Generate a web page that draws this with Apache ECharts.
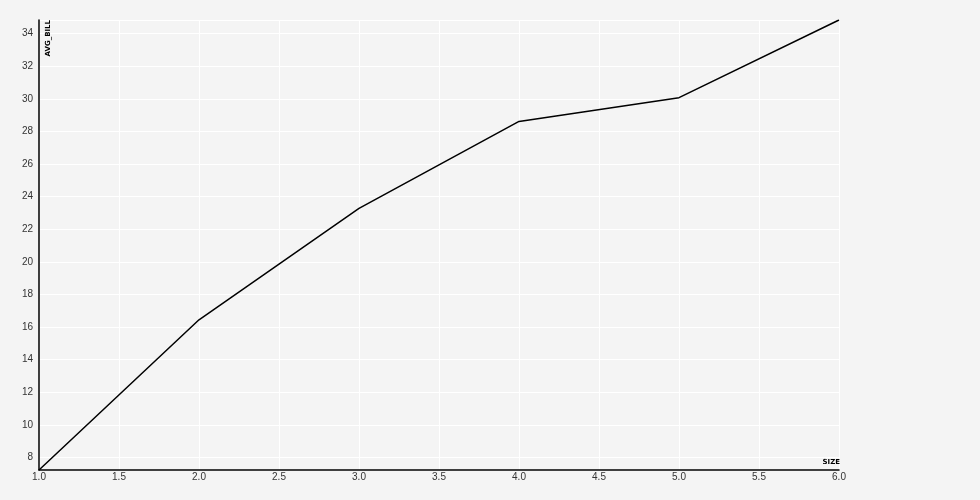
<!DOCTYPE html>
<html><head><meta charset="utf-8">
<script src="https://cdn.jsdelivr.net/npm/echarts@6/dist/echarts.min.js"></script>
<style>html,body{margin:0;padding:0;background:#f4f4f4}#c{width:980px;height:500px}</style>
</head><body><div id="c"></div>
<script>
const sizes = [1, 2, 3, 4, 5, 6];
const avgBill = [7.24, 16.45, 23.28, 28.61, 30.07, 34.83];
const xName = 'SIZE';
const yName = 'AVG_BILL';

const chart = echarts.init(document.getElementById('c'), null, {renderer: 'canvas'});
const yMin = Math.min(...avgBill), yMax = Math.max(...avgBill);
chart.setOption({
  backgroundColor: '#f4f4f4',
  animation: false,
  grid: {left: 39, right: 141, top: 20, bottom: 30},
  xAxis: {
    type: 'value', min: 1, max: 6, interval: 0.5,
    axisLine: {show: true, onZero: false, lineStyle: {color: '#000', width: 1.5}},
    axisTick: {show: false},
    splitLine: {show: true, lineStyle: {color: '#ffffff', width: 1}},
    axisLabel: {color: '#333', fontSize: 10, fontFamily: 'Liberation Sans, Arial', margin: 2,
      formatter: v => v.toFixed(1)}
  },
  yAxis: {
    type: 'value', min: yMin, max: yMax, splitNumber: 14, minInterval: 2, maxInterval: 2,
    axisLine: {show: true, onZero: false, lineStyle: {color: '#000', width: 1.5}},
    axisTick: {show: false},
    splitLine: {show: true, lineStyle: {color: '#ffffff', width: 1}},
    axisLabel: {color: '#333', fontSize: 10, fontFamily: 'Liberation Sans, Arial', margin: 6,
      showMinLabel: false, showMaxLabel: false,
      formatter: v => (Math.abs(v - Math.round(v)) < 1e-9 ? String(Math.round(v)) : '')}
  },
  series: [{
    type: 'line', data: sizes.map((s, i) => [s, avgBill[i]]),
    showSymbol: false, symbol: 'none',
    lineStyle: {color: '#000', width: 1.5}
  }],
  graphic: [
    {type: 'text', x: 840, y: 462, z: 100, style: {text: xName, fontSize: 7, fontWeight: 'bold', fontFamily: 'DejaVu Sans', fill: '#000', align: 'right', verticalAlign: 'middle'}},
    {type: 'text', x: 48, y: 20, z: 100, rotation: Math.PI / 2, style: {text: yName, fontSize: 7, fontWeight: 'bold', fontFamily: 'DejaVu Sans', fill: '#000', align: 'right', verticalAlign: 'middle'}}
  ]
});
</script></body></html>
